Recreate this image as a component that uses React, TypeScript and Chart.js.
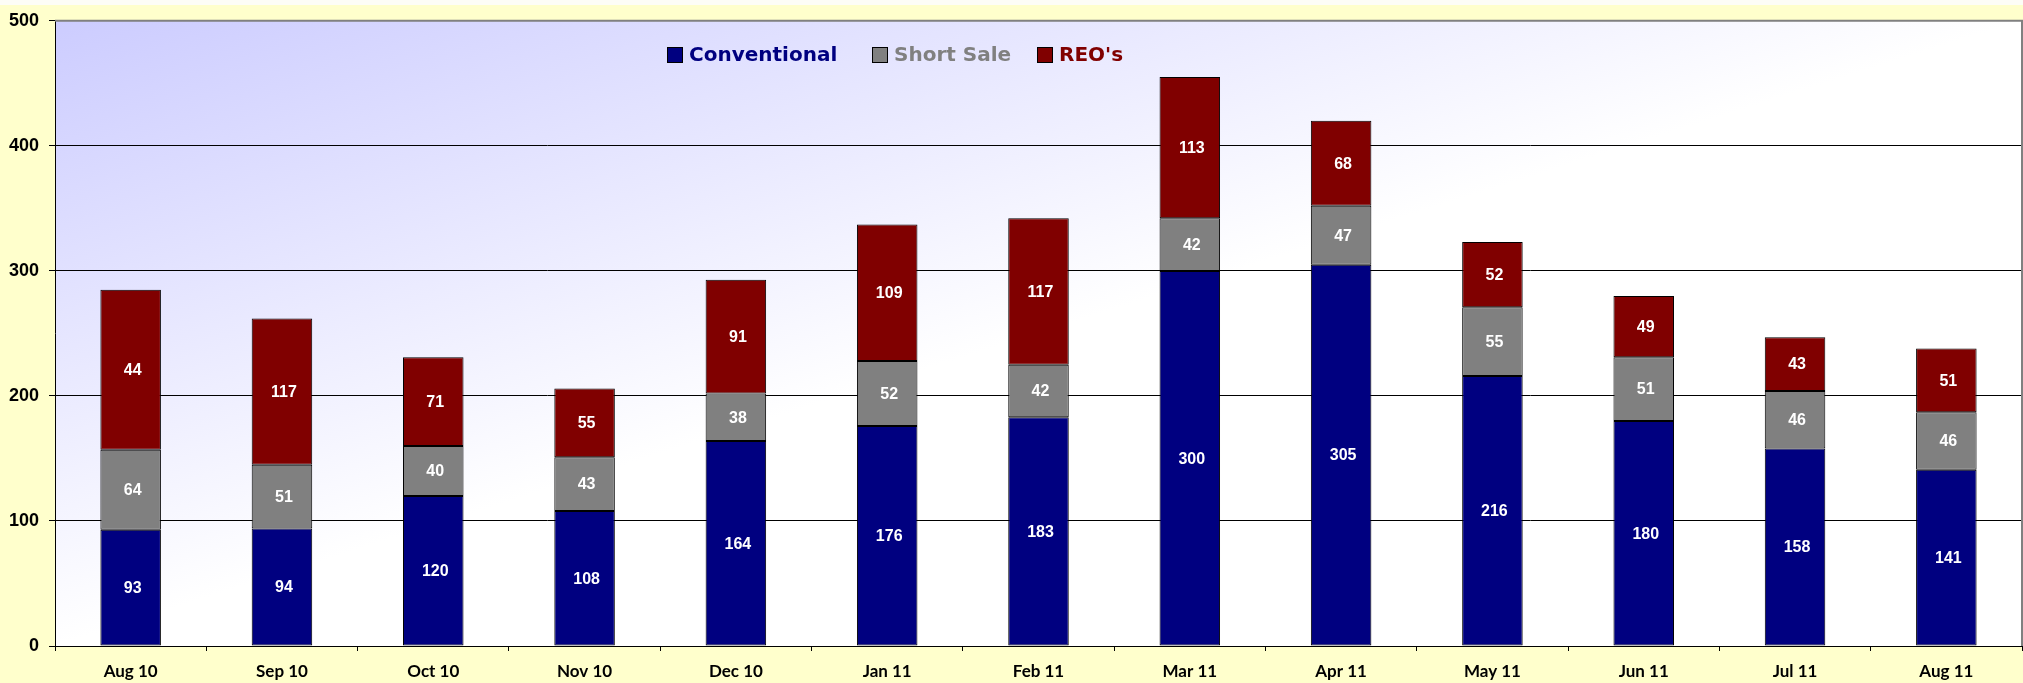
import React, { useEffect, useRef } from "react";
import { Chart, registerables } from "chart.js";

Chart.register(...registerables);

const categories = ["Aug 10", "Sep 10", "Oct 10", "Nov 10", "Dec 10", "Jan 11", "Feb 11", "Mar 11", "Apr 11", "May 11", "Jun 11", "Jul 11", "Aug 11"];
const conventional = [93, 94, 120, 108, 164, 176, 183, 300, 305, 216, 180, 158, 141];
const shortSale = [64, 51, 40, 43, 38, 52, 42, 42, 47, 55, 51, 46, 46];
const reoValues = [128, 117, 71, 55, 91, 109, 117, 113, 68, 52, 49, 43, 51];
const reoLabels = ["44", "117", "71", "55", "91", "109", "117", "113", "68", "52", "49", "43", "51"];
const yTicks = [0, 100, 200, 300, 400, 500];

const seriesNames = ["Conventional", "Short Sale", "REO's"];
const seriesColors = ["#000080", "#808080", "#800000"];

export default function App() {
  const ref = useRef<HTMLCanvasElement | null>(null);

  useEffect(() => {
    document.body.style.margin = "0";
    const canvas = ref.current!;
    const bgPlugin = {
      id: "bg",
      beforeDraw(chart: any) {
        const { ctx, chartArea: a, width, height } = chart;
        ctx.save();
        ctx.fillStyle = "#FDFDF6";
        ctx.fillRect(0, 0, width, height);
        ctx.fillStyle = "#FFFFCC";
        ctx.fillRect(0, 5, width, height - 5);
        const W = a.right - a.left;
        const H = a.bottom - a.top;
        const t = 1 / (1 / (W * W) + 1 / (H * H));
        const g = ctx.createLinearGradient(a.left, a.top, a.left + t / W, a.top + t / H);
        g.addColorStop(0, "#CCCCFF");
        g.addColorStop(1, "#FFFFFF");
        ctx.fillStyle = g;
        ctx.fillRect(a.left, a.top, W, H);
        ctx.restore();
      },
      afterDraw(chart: any) {
        const { ctx, chartArea: a } = chart;
        ctx.save();
        ctx.strokeStyle = "#808080";
        ctx.lineWidth = 2;
        ctx.beginPath();
        ctx.moveTo(a.left, a.top);
        ctx.lineTo(a.right, a.top);
        ctx.lineTo(a.right, a.bottom);
        ctx.stroke();
        ctx.restore();
      },
    };
    const labelPlugin = {
      id: "segLabels",
      afterDatasetsDraw(chart: any) {
        const ctx = chart.ctx;
        ctx.save();
        ctx.fillStyle = "#FFFFFF";
        ctx.font = "bold 16px 'Liberation Sans'";
        ctx.textAlign = "center";
        ctx.textBaseline = "middle";
        chart.data.datasets.forEach((ds: any, di: number) => {
          const meta = chart.getDatasetMeta(di);
          meta.data.forEach((el: any, i: number) => {
            const txt = di === 2 ? reoLabels[i] : String(ds.data[i]);
            ctx.fillText(txt, el.x + 2, (el.y + el.base) / 2 + 1);
          });
        });
        ctx.restore();
      },
    };
    const legendPlugin = {
      id: "customLegend",
      afterDraw(chart: any) {
        const ctx = chart.ctx;
        ctx.save();
        ctx.font = "bold 20px 'DejaVu Sans'";
        ctx.textBaseline = "middle";
        const xs = [667, 872, 1037];
        const y = 55;
        seriesNames.forEach((n, i) => {
          const x = xs[i];
          ctx.fillStyle = seriesColors[i];
          ctx.fillRect(x, y - 8, 16, 16);
          ctx.strokeStyle = "#000";
          ctx.lineWidth = 1;
          ctx.strokeRect(x + 0.5, y - 7.5, 15, 15);
          ctx.fillText(n, x + 22, y + 1);
        });
        ctx.restore();
      },
    };

    const chart = new Chart(canvas, {
      type: "bar",
      data: {
        labels: categories,
        datasets: [
          { label: seriesNames[0], data: conventional, backgroundColor: seriesColors[0] },
          { label: seriesNames[1], data: shortSale, backgroundColor: seriesColors[1] },
          { label: seriesNames[2], data: reoValues, backgroundColor: seriesColors[2] },
        ].map((d) => ({
          ...d,
          borderColor: "#000000",
          borderWidth: 1,
          borderSkipped: false,
          barPercentage: 0.8,
          categoryPercentage: 0.5,
        })),
      },
      options: {
        animation: false,
        responsive: false,
        layout: { padding: { top: 18, right: 1, left: 0, bottom: 0 } },
        plugins: { legend: { display: false }, tooltip: { enabled: false } },
        scales: {
          x: {
            stacked: true,
            grid: { display: true, drawOnChartArea: false, offset: true, tickLength: 5, color: "#000" },
            border: { display: true, color: "#000" },
            ticks: { color: "#000", font: { family: "Lato", weight: "bold", size: 17 }, padding: 10, maxRotation: 0 },
            afterFit(s: any) { s.height = 37; },
          },
          y: {
            stacked: true,
            min: 0,
            max: 500,
            afterBuildTicks(s: any) { s.ticks = yTicks.map((v) => ({ value: v })); },
            grid: { color: "#000", tickLength: 6, tickColor: "#000" },
            border: { display: true, color: "#000" },
            ticks: { color: "#000", font: { family: "'Liberation Sans'", weight: "bold", size: 18 }, padding: 10 },
            afterFit(s: any) { s.width = 55; },
          },
        },
      },
      plugins: [bgPlugin, labelPlugin, legendPlugin],
    } as any);
    return () => chart.destroy();
  }, []);

  return (
    <div style={{ position: "absolute", left: 0, top: 0, width: 2023, height: 683 }}>
      <canvas ref={ref} width={2023} height={683} style={{ width: 2023, height: 683, display: "block" }} />
    </div>
  );
}
